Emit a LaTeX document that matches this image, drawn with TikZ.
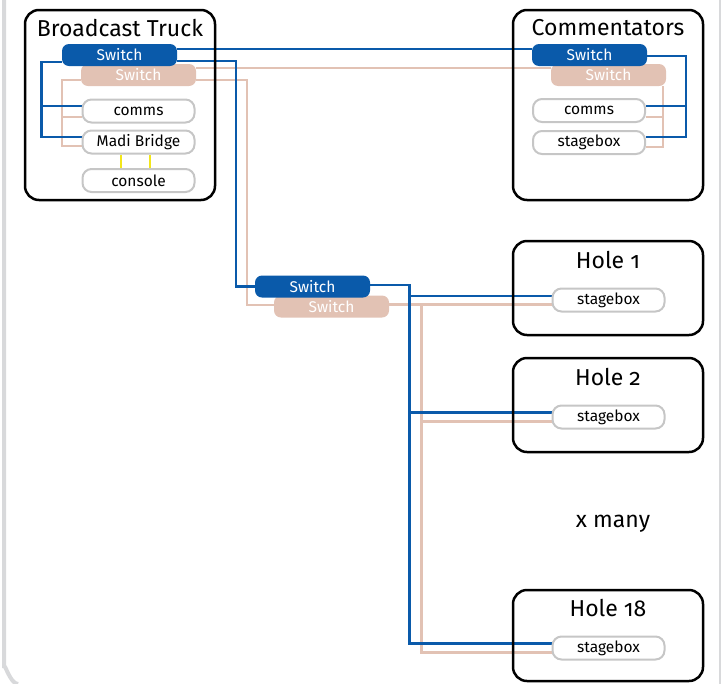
\documentclass[tikz,border=0pt]{standalone}
\usepackage{fontspec}
\setmainfont{Fira Sans}[Numbers=OldStyle]
\usetikzlibrary{backgrounds}
\definecolor{blueC}{HTML}{0A5AAA}
\definecolor{pinkC}{HTML}{E2C2B4}
\definecolor{devC}{HTML}{C6C6C6}
\definecolor{frameC}{HTML}{D8D9DB}
\definecolor{yelC}{HTML}{F2E61A}
\tikzset{
  group/.style={draw=black, line width=2.5pt, rounded corners=14pt, minimum width=190pt, inner sep=0pt},
  grouptitle/.style={font=\fontsize{23}{26}\selectfont, inner sep=0pt},
  bswitch/.style={fill=blueC, text=white, rounded corners=7pt, minimum width=115pt, minimum height=22pt, inner sep=0pt, font=\fontsize{15.5}{17}\selectfont},
  pswitch/.style={fill=pinkC, text=white, rounded corners=7pt, minimum width=115pt, minimum height=22pt, inner sep=0pt, font=\fontsize{15.5}{17}\selectfont},
  dev/.style={draw=devC, fill=white, line width=2pt, rounded corners=9pt, minimum width=112pt, minimum height=23pt, inner sep=0pt, font=\fontsize{15.5}{17}\selectfont},
  bl/.style={draw=blueC, line width=2.6pt},
  pl/.style={draw=pinkC, line width=2.6pt},
  yl/.style={draw=yelC, line width=2pt},
}
\begin{document}
\begin{tikzpicture}[x=1pt, y=-1pt]
\useasboundingbox (0,0) rectangle (722,683);
% groups
\node[group, minimum height=190pt] (truck) at (120,105) {};
\node[grouptitle] (truckT) at (120,28) {Broadcast Truck};
\node[group, minimum height=190pt] (comm) at (608,105) {};
\node[grouptitle] (commT) at (608,28) {Commentators};
\node[group, minimum height=94pt] (h1) at (608,288) {};
\node[grouptitle] (h1T) at (608,260) {Hole 1};
\node[group, minimum height=94pt] (h2) at (608,405) {};
\node[grouptitle] (h2T) at (608,377) {Hole 2};
\node[group, minimum height=91pt] (h18) at (608,635.5) {};
\node[grouptitle] (h18T) at (608,608) {Hole 18};
\node[grouptitle] (many) at (613,524) {x many};
% switches
\node[pswitch] (ps1) at (138.5,75) {Switch};
\node[bswitch] (bs1) at (119.5,55) {Switch};
\node[pswitch] (ps2) at (608.5,75) {Switch};
\node[bswitch] (bs2) at (589.5,55) {Switch};
\node[pswitch] (ps3) at (331.5,306.5) {Switch};
\node[bswitch] (bs3) at (312.5,286.5) {Switch};
% devices
\node[dev] (tcomms) at (138.5,111) {comms};
\node[dev] (mb) at (138.5,142) {Madi Bridge};
\node[dev] (console) at (138.5,180.5) {console};
\node[dev] (ccomms) at (589,110.5) {comms};
\node[dev] (cstage) at (589,142.5) {stagebox};
\node[dev] (s1) at (608.5,300) {stagebox};
\node[dev] (s2) at (608.5,417) {stagebox};
\node[dev] (s18) at (608.5,648) {stagebox};
% connectors
\begin{scope}[on background layer]
\draw[frameC, line width=4pt] (4,-10) -- (4,668) to[out=90, in=180] (18,684);
\draw[frameC, line width=1.5pt] (720,-10) -- (720,690);
% truck internal pink
\draw[pl] ([yshift=-5pt]ps1.west) -- ++(-19,0) |- ([yshift=-4pt]mb.west);
\draw[pl] ([yshift=-6pt]tcomms.west) -- ++(-19,0);
% truck internal blue
\draw[bl] ([yshift=-7pt]bs1.west) -| ([xshift=-40pt,yshift=5pt]mb.west) -- ([yshift=5pt]mb.west);
\draw[bl] ([yshift=5pt]tcomms.west) -- ++(-40,0);
% yellow
\draw[yl] ([xshift=-17.5pt]mb.south) -- ([xshift=-17.5pt]mb.south |- console.north);
\draw[yl] ([xshift=11.5pt]mb.south) -- ([xshift=11.5pt]mb.south |- console.north);
% truck to commentators
\draw[pl] ([yshift=7pt]ps1.east) -- ([yshift=7pt]ps2.west);
\draw[bl] ([yshift=6pt]bs1.east) -- ([yshift=6pt]bs2.west);
% truck to central
\draw[pl] ([yshift=-5pt]ps1.east) -| ([xshift=-27pt,yshift=1.5pt]ps3.west) -- ([yshift=1.5pt]ps3.west);
\draw[bl] ([yshift=-6pt]bs1.east) -| ([xshift=-19pt]bs3.west) -- (bs3.west);
% commentators internal
\draw[pl] ([xshift=54.5pt]ps2.south) |- ([yshift=-4.5pt]cstage.east);
\draw[pl] ([yshift=-6.5pt]ccomms.east) -- ++(17,0);
\draw[bl] ([yshift=-1pt]bs2.east) -| ([xshift=40pt,yshift=5.5pt]cstage.east) -- ([yshift=5.5pt]cstage.east);
\draw[bl] ([yshift=4.5pt]ccomms.east) -- ++(40,0);
% central to holes
\draw[pl] ([yshift=2pt]ps3.east) -- ([yshift=-4.5pt]s1.west);
\draw[pl] ([xshift=-130pt,yshift=-4.5pt]s1.west) |- ([yshift=-4.5pt]s18.west);
\draw[pl] ([yshift=-4.5pt]s2.west) -- ++(-130,0);
\draw[bl] ([yshift=1.5pt]bs3.east) -| ([xshift=-142pt,yshift=4.5pt]s18.west) -- ([yshift=4.5pt]s18.west);
\draw[bl] ([yshift=4pt]s1.west) -- ++(-142,0);
\draw[bl] ([yshift=4.5pt]s2.west) -- ++(-142,0);
\end{scope}
\end{tikzpicture}
\end{document}
